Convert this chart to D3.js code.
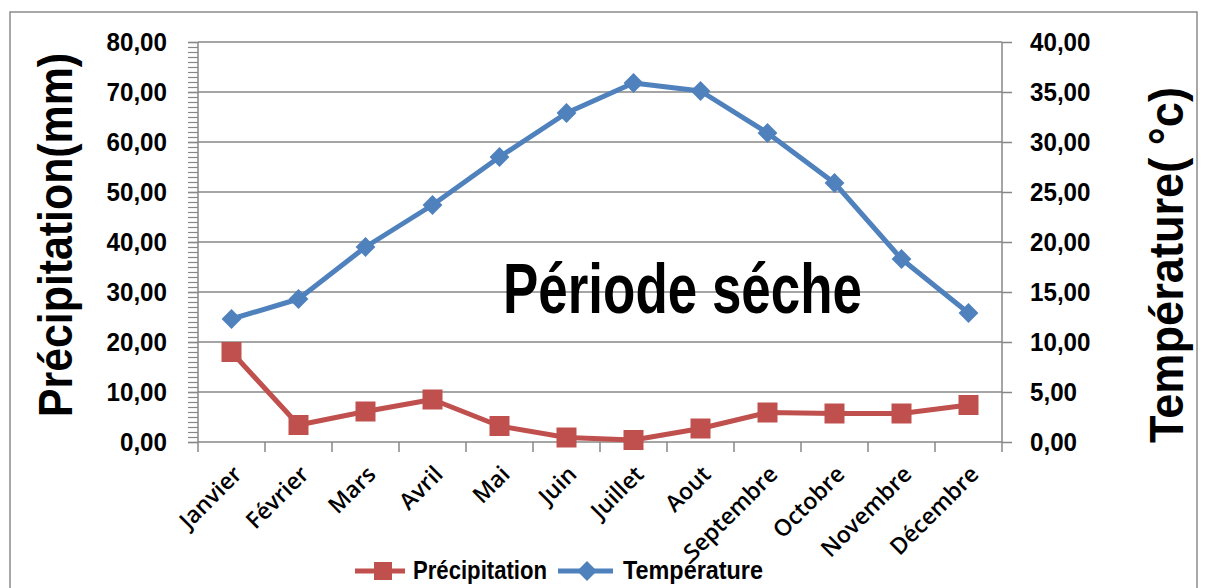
<!DOCTYPE html>
<html>
<head>
<meta charset="utf-8">
<script src="https://cdn.jsdelivr.net/npm/d3@7"></script>
<style>
  html, body { margin: 0; padding: 0; background: #fff; }
  svg { display: block; }
</style>
</head>
<body>
<svg id="chart" width="1206" height="588"></svg>
<script>
const months = ["Janvier","Février","Mars","Avril","Mai","Juin","Juillet","Aout","Septembre","Octobre","Novembre","Décembre"];
const precipitation = [18.0, 3.4, 6.1, 8.5, 3.2, 0.9, 0.4, 2.7, 5.9, 5.7, 5.7, 7.4];
const temperature = [12.3, 14.3, 19.5, 23.7, 28.5, 32.9, 35.9, 35.1, 30.9, 25.9, 18.3, 12.9];
const precipTicks = [0, 10, 20, 30, 40, 50, 60, 70, 80];
const tempTicks = [0, 5, 10, 15, 20, 25, 30, 35, 40];

const RED = "#C0504D", BLUE = "#4F81BD", GRID = "#878787";
const FONT = "'Liberation Sans', Arial, sans-serif";

const svg = d3.select("#chart");
const pLeft = 198, pRight = 1002, pTop = 42, pBottom = 442;

// frame
svg.append("rect").attr("x", 10).attr("y", 12).attr("width", 1187).attr("height", 620)
  .attr("fill", "none").attr("stroke", "#8c8c8c").attr("stroke-width", 1.5);

const x = d3.scaleBand().domain(months).range([pLeft, pRight]).padding(0);
const xc = d => x(d) + x.bandwidth() / 2;
const yP = d3.scaleLinear().domain([0, 80]).range([pBottom, pTop]);
const yT = d3.scaleLinear().domain([0, 40]).range([pBottom, pTop]);

const fmt = v => d3.format(".2f")(v).replace(".", ",");

// gridlines
svg.append("g").selectAll("line").data(precipTicks.filter(v => v > 0)).join("line")
  .attr("x1", pLeft).attr("x2", pRight).attr("y1", d => yP(d)).attr("y2", d => yP(d))
  .attr("stroke", GRID).attr("stroke-width", 1.5);

// minor ticks left
const minor = d3.range(0, 81, 1);
svg.append("g").attr("transform", `translate(${pLeft},0)`)
  .call(d3.axisLeft(yP).tickValues(minor).tickSize(10).tickFormat(""))
  .call(g => g.select(".domain").remove())
  .call(g => g.selectAll("line").attr("stroke", GRID).attr("stroke-width", 1.2));

// left axis
const gl = svg.append("g").attr("transform", `translate(${pLeft},0)`)
  .call(d3.axisLeft(yP).tickValues(precipTicks).tickSize(10).tickPadding(21).tickFormat(fmt));
gl.select(".domain").attr("stroke", GRID).attr("stroke-width", 1.5).attr("d", `M0,${pTop}V${pBottom}`);
gl.selectAll(".tick line").attr("stroke", GRID).attr("stroke-width", 1.5);
gl.selectAll("text").attr("font-family", FONT).attr("font-weight", "bold").attr("font-size", 26).attr("fill", "#000");

// right axis
const gr = svg.append("g").attr("transform", `translate(${pRight},0)`)
  .call(d3.axisRight(yT).tickValues(tempTicks).tickSize(10).tickPadding(18).tickFormat(fmt));
gr.select(".domain").attr("stroke", GRID).attr("stroke-width", 1.5).attr("d", `M0,${pTop}V${pBottom}`);
gr.selectAll(".tick line").attr("stroke", GRID).attr("stroke-width", 1.5);
gr.selectAll("text").attr("font-family", FONT).attr("font-weight", "bold").attr("font-size", 26).attr("fill", "#000");

// condense tick labels
svg.selectAll(".tick text").each(function() {
  const w = this.getComputedTextLength();
  if (w > 0) d3.select(this).attr("textLength", w * 0.93).attr("lengthAdjust", "spacingAndGlyphs");
});

// bottom axis
const bounds = d3.range(0, 13).map(i => pLeft + i * x.bandwidth());
const gb = svg.append("g");
gb.append("line").attr("x1", pLeft).attr("x2", pRight).attr("y1", pBottom).attr("y2", pBottom)
  .attr("stroke", GRID).attr("stroke-width", 1.5);
gb.selectAll("line.t").data(bounds).join("line").attr("class", "t")
  .attr("x1", d => d).attr("x2", d => d).attr("y1", pBottom).attr("y2", pBottom + 10)
  .attr("stroke", GRID).attr("stroke-width", 1.5);
gb.selectAll("text").data(months).join("text")
  .attr("transform", d => `translate(${xc(d) + 6},${pBottom + 28}) rotate(-45)`)
  .attr("text-anchor", "end").attr("dy", "0.35em")
  .attr("font-family", "'Open Sans', sans-serif").attr("font-weight", 600).attr("font-size", 23)
  .attr("fill", "#000").text(d => d);

// lines
const lineP = d3.line().x((d, i) => xc(months[i])).y(d => yP(d));
const lineT = d3.line().x((d, i) => xc(months[i])).y(d => yT(d));
svg.append("path").datum(temperature).attr("d", lineT).attr("fill", "none")
  .attr("stroke", BLUE).attr("stroke-width", 5).attr("stroke-linejoin", "round");
svg.append("path").datum(precipitation).attr("d", lineP).attr("fill", "none")
  .attr("stroke", RED).attr("stroke-width", 5).attr("stroke-linejoin", "round");

const diamond = 14;
svg.append("g").selectAll("rect").data(temperature).join("rect")
  .attr("x", -diamond / 2).attr("y", -diamond / 2).attr("width", diamond).attr("height", diamond)
  .attr("transform", (d, i) => `translate(${xc(months[i])},${yT(d)}) rotate(45)`)
  .attr("fill", BLUE);
const sq = 20;
svg.append("g").selectAll("rect").data(precipitation).join("rect")
  .attr("x", (d, i) => xc(months[i]) - sq / 2).attr("y", d => yP(d) - sq / 2)
  .attr("width", sq).attr("height", sq).attr("fill", RED);

// titles
function condensed(sel, len) {
  sel.attr("textLength", len).attr("lengthAdjust", "spacingAndGlyphs");
}
svg.append("text").attr("transform", "translate(72,235) rotate(-90)")
  .attr("text-anchor", "middle").attr("font-family", FONT).attr("font-weight", "bold")
  .attr("font-size", 49).attr("fill", "#000").text("Précipitation(mm)").call(condensed, 364);
svg.append("text").attr("transform", "translate(1183,265) rotate(-90)")
  .attr("text-anchor", "middle").attr("font-family", FONT).attr("font-weight", "bold")
  .attr("font-size", 49).attr("fill", "#000").text("Température( °c)").call(condensed, 356);
svg.append("text").attr("x", 503).attr("y", 313)
  .attr("font-family", FONT).attr("font-weight", "bold")
  .attr("font-size", 70).attr("fill", "#000").text("Période séche").call(condensed, 359);

// legend
const lg = svg.append("g");
lg.append("line").attr("x1", 355).attr("x2", 405).attr("y1", 571).attr("y2", 571).attr("stroke", RED).attr("stroke-width", 5);
lg.append("rect").attr("x", 383 - 9).attr("y", 571 - 9).attr("width", 18).attr("height", 18).attr("fill", RED);
lg.append("text").attr("x", 413).attr("y", 579).attr("font-family", FONT).attr("font-weight", "bold")
  .attr("font-size", 25).attr("fill", "#000").text("Précipitation").call(condensed, 134);
lg.append("line").attr("x1", 558).attr("x2", 613).attr("y1", 571).attr("y2", 571).attr("stroke", BLUE).attr("stroke-width", 5);
lg.append("rect").attr("x", -7).attr("y", -7).attr("width", 14).attr("height", 14)
  .attr("transform", "translate(587,571) rotate(45)").attr("fill", BLUE);
lg.append("text").attr("x", 623).attr("y", 579).attr("font-family", FONT).attr("font-weight", "bold")
  .attr("font-size", 25).attr("fill", "#000").text("Température").call(condensed, 140);
</script>
</body>
</html>
